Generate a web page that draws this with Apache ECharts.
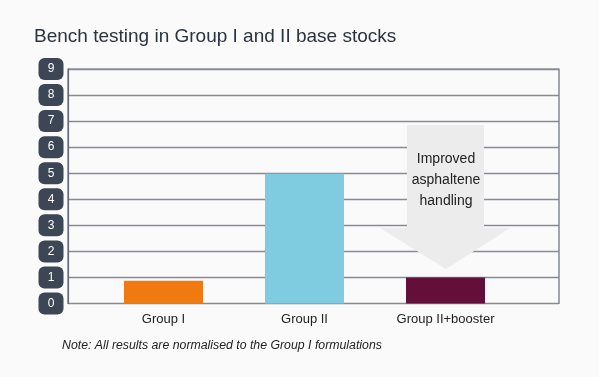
<!DOCTYPE html>
<html><head><meta charset="utf-8">
<script src="https://cdn.jsdelivr.net/npm/echarts@6/dist/echarts.min.js"></script>
<style>html,body{margin:0;padding:0;background:#fafafa}#c{width:599px;height:377px}</style>
</head><body><div id="c"></div>
<script>
const categories = ['Group I', 'Group II', 'Group II+booster'];
const values = [0.87, 4.98, 1.0];
const barColors = ['#f07a10', '#7fcce0', '#640f3a'];
const yTicks = [0, 1, 2, 3, 4, 5, 6, 7, 8, 9];
const titleText = 'Bench testing in Group I and II base stocks';
const noteText = 'Note: All results are normalised to the Group I formulations';
const arrowLines = ['Improved', 'asphaltene', 'handling'];

const chart = echarts.init(document.getElementById('c'), null, {renderer: 'canvas'});
const font = 'Liberation Sans, Arial, sans-serif';
chart.setOption({
  backgroundColor: '#fafafa',
  animation: false,
  title: {text: titleText, left: 29, top: 22, textStyle: {fontFamily: font, fontSize: 19, fontWeight: 'normal', color: '#2b3340'}},
  grid: [
    {left: 68, right: 40, top: 69, bottom: 73.5, show: true, borderColor: '#666d79', borderWidth: 1.2, backgroundColor: 'transparent'},
    {left: 93, right: 83, top: 69, bottom: 73.5}
  ],
  xAxis: [
    {gridIndex: 0, type: 'value', show: false, min: 0, max: 1},
    {gridIndex: 1, type: 'category', data: categories,
     axisLine: {show: false}, axisTick: {show: false},
     axisLabel: {fontFamily: font, fontSize: 13, color: '#222', margin: 9}}
  ],
  yAxis: [
    {gridIndex: 0, type: 'value', min: yTicks[0], max: yTicks[yTicks.length - 1], interval: 1,
     axisLine: {show: true, lineStyle: {color: '#666d79', width: 1.2}}, axisTick: {show: false},
     splitLine: {show: true, lineStyle: {color: '#868c96', width: 1.4}},
     axisLabel: {fontFamily: font, fontSize: 12, color: '#ffffff', backgroundColor: '#3d4654',
       borderRadius: 6, width: 25, lineHeight: 12, align: 'center', padding: [5, 0, 5, 0], margin: 17,
       formatter: v => yTicks.includes(v) ? String(v) : ''}},
    {gridIndex: 1, type: 'value', min: yTicks[0], max: yTicks[yTicks.length - 1], show: false}
  ],
  series: [{
    type: 'bar', xAxisIndex: 1, yAxisIndex: 1, barWidth: 79,
    data: values.map((v, i) => ({value: v, itemStyle: {color: barColors[i]}}))
  }],
  graphic: [
    {type: 'polygon', z: 5, shape: {points: [[407,125],[484,125],[484,228],[510,228],[446,269],[380,228],[407,228]]},
     style: {fill: '#ececec'}},
    {type: 'text', z: 6, style: {x: 446, y: 149, text: arrowLines.join('\n'), textAlign: 'center',
      font: '14px ' + font, fill: '#222', lineHeight: 21}},
    {type: 'text', left: 62, top: 340, style: {text: noteText, font: 'italic 12.3px ' + font, fill: '#222'}}
  ]
});
</script></body></html>
